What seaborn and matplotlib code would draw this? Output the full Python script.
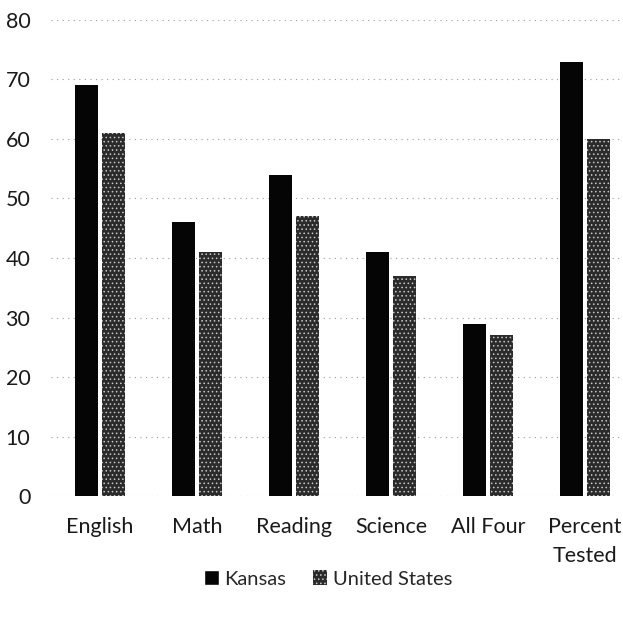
import matplotlib
matplotlib.use("Agg")
import matplotlib.pyplot as plt
import seaborn as sns
import pandas as pd
from matplotlib.patches import Patch

categories = ["English", "Math", "Reading", "Science", "All Four", "Percent\nTested"]
kansas = [69, 46, 54, 41, 29, 73]
united_states = [61, 41, 47, 37, 27, 60]
series = ["Kansas", "United States"]
y_ticks = [0, 10, 20, 30, 40, 50, 60, 70, 80]

df = pd.DataFrame({
    "category": categories * 2,
    "value": kansas + united_states,
    "region": [series[0]] * len(categories) + [series[1]] * len(categories),
})

sns.set_theme(style="white")
plt.rcParams["font.family"] = ["Lato", "DejaVu Sans"]
plt.rcParams["hatch.color"] = "#bdbdbd"
plt.rcParams["hatch.linewidth"] = 0.6

fig = plt.figure(figsize=(6.23, 6.21), dpi=100)
ax = fig.add_axes([0.082, 0.201, 0.918, 0.767])

palette = {"Kansas": "#050505", "United States": "#2b2b2b"}
sns.barplot(data=df, x="category", y="value", hue="region", order=categories,
            hue_order=series, palette=palette, width=0.56, gap=0.16,
            saturation=1, legend=False, ax=ax, linewidth=0)

# speckled fill for the national series
n = len(categories)
for i, bar in enumerate(ax.patches):
    if i >= n:
        bar.set_hatch("....")
        bar.set_edgecolor("#c8c8c8")
        bar.set_linewidth(0)

ax.set_ylim(0, 80)
ax.set_xlim(-0.505, 5.39)
ax.set_yticks(y_ticks)
ax.set_yticklabels([str(t) for t in y_ticks])
ax.yaxis.grid(True, linestyle=(0, (1, 4)), color="#9a9a9a", linewidth=0.8)
ax.set_axisbelow(True)
for s in ax.spines.values():
    s.set_visible(False)
ax.set_xlabel("")
ax.set_ylabel("")
ax.tick_params(axis="both", length=0, labelsize=15.5, colors="#1a1a1a")
ax.tick_params(axis="y", pad=15)
ax.tick_params(axis="x", pad=15)
for lab in ax.get_xticklabels():
    lab.set_linespacing(1.55)

handles = [Patch(facecolor="#050505", label="Kansas"),
           Patch(facecolor="#2b2b2b", hatch="....", edgecolor="#c8c8c8", linewidth=0, label="United States")]
fig.legend(handles=handles, loc="center", bbox_to_anchor=(0.527, 0.068), ncol=2,
           frameon=False, fontsize=14.5, handlelength=0.7, handleheight=0.8,
           handletextpad=0.3, columnspacing=1.3)

fig.savefig("out.png", dpi=100)
